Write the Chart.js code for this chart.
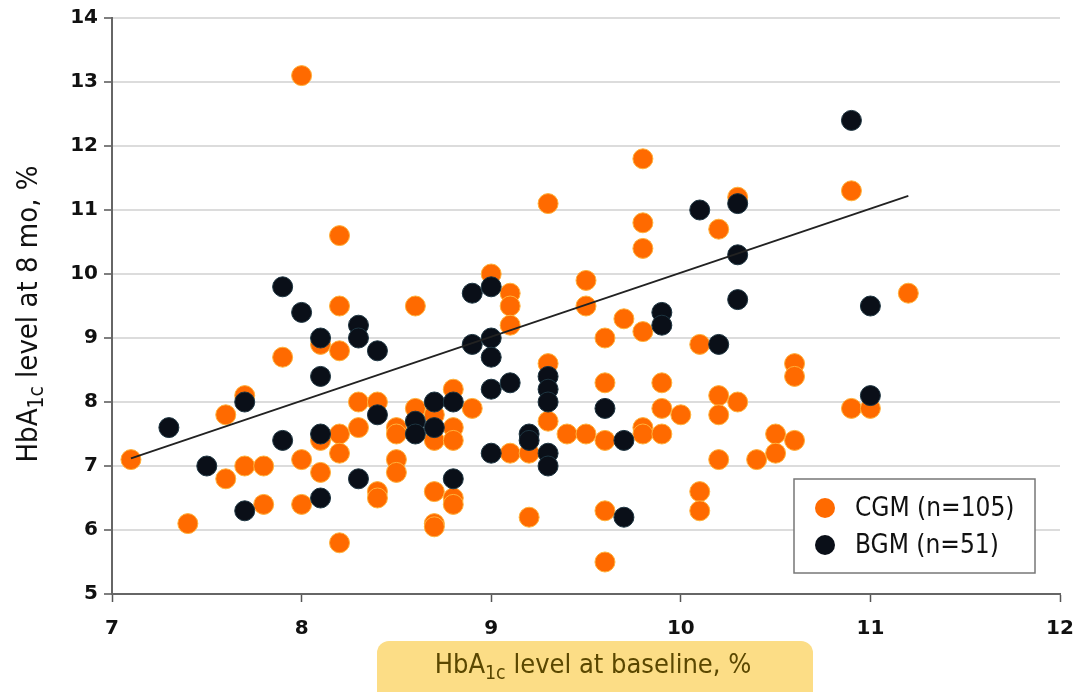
<!DOCTYPE html>
<html>
<head>
<meta charset="utf-8">
<script src="https://cdn.jsdelivr.net/npm/chart.js@4.4.1/dist/chart.umd.min.js"></script>
<style>
  html, body { margin: 0; padding: 0; background: #fff; }
  #wrap { width: 1076px; height: 692px; }
</style>
</head>
<body>
<div id="wrap"><canvas id="scatter"></canvas></div>
<script>
// CGM group: baseline HbA1c vs 8-month HbA1c
var cgmBaseline = [7.1, 7.4, 7.6, 7.6, 7.7, 7.7, 7.8, 7.8, 7.9, 8.0, 8.0, 8.0, 8.1, 8.1, 8.1,
  8.2, 8.2, 8.2, 8.2, 8.2, 8.2, 8.3, 8.3, 8.4, 8.4, 8.4, 8.5, 8.5, 8.5, 8.5, 8.6, 8.6,
  8.7, 8.7, 8.7, 8.7, 8.7, 8.8, 8.8, 8.8, 8.8, 8.8, 8.9, 9.0, 9.1, 9.1, 9.1, 9.1, 9.2, 9.2,
  9.3, 9.3, 9.3, 9.4, 9.5, 9.5, 9.5, 9.6, 9.6, 9.6, 9.6, 9.6, 9.7, 9.8, 9.8, 9.8, 9.8, 9.8, 9.8,
  9.9, 9.9, 9.9, 10.0, 10.1, 10.1, 10.1, 10.2, 10.2, 10.2, 10.2, 10.3, 10.3, 10.4, 10.5, 10.5,
  10.6, 10.6, 10.6, 10.9, 10.9, 11.0, 11.2];
var cgm8mo = [7.1, 6.1, 7.8, 6.8, 8.1, 7.0, 7.0, 6.4, 8.7, 13.1, 7.1, 6.4, 8.9, 7.4, 6.9,
  10.6, 9.5, 8.8, 7.5, 7.2, 5.8, 8.0, 7.6, 8.0, 6.6, 6.5, 7.6, 7.5, 7.1, 6.9, 9.5, 7.9,
  7.8, 7.4, 6.6, 6.1, 6.05, 8.2, 7.6, 7.4, 6.5, 6.4, 7.9, 10.0, 9.7, 9.5, 9.2, 7.2, 7.2, 6.2,
  11.1, 8.6, 7.7, 7.5, 9.9, 9.5, 7.5, 9.0, 8.3, 7.4, 6.3, 5.5, 9.3, 11.8, 10.8, 10.4, 9.1, 7.6, 7.5,
  8.3, 7.9, 7.5, 7.8, 8.9, 6.6, 6.3, 10.7, 8.1, 7.8, 7.1, 11.2, 8.0, 7.1, 7.5, 7.2,
  8.6, 8.4, 7.4, 11.3, 7.9, 7.9, 9.7];

// BGM group
var bgmBaseline = [7.3, 7.5, 7.7, 7.7, 7.9, 7.9, 8.0, 8.1, 8.1, 8.1, 8.1, 8.3, 8.3, 8.3, 8.4, 8.4,
  8.6, 8.6, 8.7, 8.7, 8.8, 8.8, 8.9, 8.9, 9.0, 9.0, 9.0, 9.0, 9.0, 9.1, 9.2, 9.2,
  9.3, 9.3, 9.3, 9.3, 9.3, 9.6, 9.7, 9.7, 9.9, 9.9, 10.1, 10.2, 10.3, 10.3, 10.3, 10.9, 11.0, 11.0];
var bgm8mo = [7.6, 7.0, 8.0, 6.3, 9.8, 7.4, 9.4, 9.0, 8.4, 7.5, 6.5, 9.2, 9.0, 6.8, 8.8, 7.8,
  7.7, 7.5, 8.0, 7.6, 8.0, 6.8, 9.7, 8.9, 9.8, 9.0, 8.7, 8.2, 7.2, 8.3, 7.5, 7.4,
  8.4, 8.2, 8.0, 7.2, 7.0, 7.9, 7.4, 6.2, 9.4, 9.2, 11.0, 8.9, 11.1, 10.3, 9.6, 12.4, 9.5, 8.1];

// fitted line end points
var trendBaseline = [7.1, 11.2];
var trend8mo = [7.12, 11.22];

var seriesLabels = ['CGM (n=105)', 'BGM (n=51)'];
var seriesColors = ['#ff6a00', '#0a0f18'];

function toPoints(xs, ys) {
  return xs.map(function (x, i) { return { x: x, y: ys[i] }; });
}

var narrow = "'Liberation Sans Narrow', 'DejaVu Sans Condensed', 'Liberation Sans', sans-serif";

// text with a "1c" subscript
function richText(ctx, parts, cx, cy, size) {
  var total = 0;
  parts.forEach(function (p) {
    ctx.font = (p.sub ? size * 0.72 : size) + 'px ' + narrow;
    p.w = ctx.measureText(p.t).width;
    total += p.w;
  });
  var x = cx - total / 2;
  ctx.textBaseline = 'middle';
  ctx.textAlign = 'left';
  parts.forEach(function (p) {
    ctx.font = (p.sub ? size * 0.72 : size) + 'px ' + narrow;
    ctx.fillText(p.t, x, p.sub ? cy + size * 0.28 : cy);
    x += p.w;
  });
}

var decorPlugin = {
  id: 'decor',
  afterDraw: function (chart) {
    var ctx = chart.ctx;
    ctx.save();

    // x axis title in yellow tab
    ctx.fillStyle = '#fcdd86';
    ctx.beginPath();
    ctx.roundRect(377, 641, 436, 70, 12);
    ctx.fill();
    ctx.fillStyle = '#5a4700';
    richText(ctx, [{ t: 'HbA' }, { t: '1c', sub: true }, { t: ' level at baseline, %' }], 593, 666, 27);

    // y axis title
    ctx.save();
    ctx.translate(29, 314);
    ctx.rotate(-Math.PI / 2);
    ctx.fillStyle = '#111';
    richText(ctx, [{ t: 'HbA' }, { t: '1c', sub: true }, { t: ' level at 8 mo, %' }], 0, 0, 29);
    ctx.restore();

    // legend box
    ctx.fillStyle = '#fff';
    ctx.strokeStyle = '#777';
    ctx.lineWidth = 1.5;
    ctx.fillRect(794, 479, 241, 94);
    ctx.strokeRect(794, 479, 241, 94);
    var rows = [508, 545];
    seriesLabels.forEach(function (lab, i) {
      ctx.beginPath();
      ctx.arc(825, rows[i], 10, 0, Math.PI * 2);
      ctx.fillStyle = seriesColors[i];
      ctx.fill();
      ctx.fillStyle = '#111';
      ctx.font = '26px ' + narrow;
      ctx.textAlign = 'left';
      ctx.textBaseline = 'middle';
      ctx.fillText(lab, 855, rows[i] + 1);
    });
    ctx.restore();
  }
};

window.onload = function () {
  new Chart(document.getElementById('scatter').getContext('2d'), {
    type: 'scatter',
    data: {
      datasets: [
        {
          label: 'trend',
          data: toPoints(trendBaseline, trend8mo),
          showLine: true,
          borderColor: '#222',
          borderWidth: 1.8,
          pointRadius: 0,
          order: 0
        },
        {
          label: seriesLabels[1],
          data: toPoints(bgmBaseline, bgm8mo),
          backgroundColor: seriesColors[1],
          borderColor: '#1d3440',
          borderWidth: 1,
          pointRadius: 10,
          order: 1
        },
        {
          label: seriesLabels[0],
          data: toPoints(cgmBaseline, cgm8mo),
          backgroundColor: seriesColors[0],
          borderColor: '#ffb13b',
          borderWidth: 1,
          pointRadius: 10,
          order: 2
        }
      ]
    },
    options: {
      responsive: true,
      maintainAspectRatio: false,
      animation: false,
      layout: { padding: { left: 0, top: 18, right: 16, bottom: 0 } },
      plugins: { legend: { display: false }, tooltip: { enabled: false } },
      scales: {
        x: {
          min: 7, max: 12,
          afterFit: function (s) { s.height = 98; s.paddingLeft = 0; s.paddingRight = 0; },
          ticks: { stepSize: 1, color: '#111', padding: 15, font: { family: 'DejaVu Sans', size: 20, weight: 'bold' } },
          grid: { drawOnChartArea: false, drawTicks: true, tickLength: 8, tickColor: '#555', tickWidth: 1.5 },
          border: { color: '#666', width: 2 }
        },
        y: {
          min: 5, max: 14,
          afterFit: function (s) { s.width = 112; },
          ticks: { stepSize: 1, color: '#111', padding: 6, font: { family: 'DejaVu Sans', size: 20, weight: 'bold' } },
          grid: { color: '#dcdcdc', lineWidth: 2, drawTicks: true, tickLength: 8, tickColor: '#555', tickWidth: 1.5 },
          border: { color: '#666', width: 2 }
        }
      }
    },
    plugins: [decorPlugin]
  });
};
</script>
</body>
</html>
